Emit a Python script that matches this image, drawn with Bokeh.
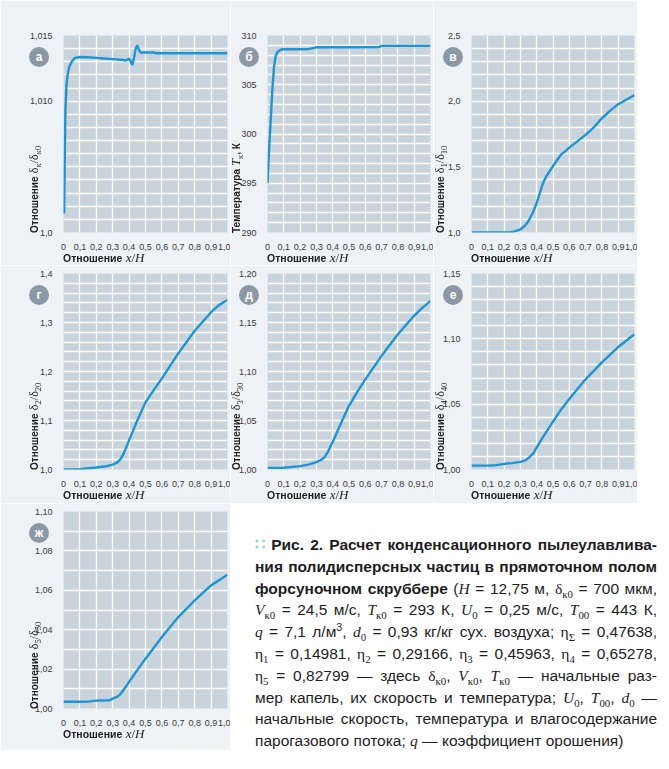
import numpy as np
from bokeh.plotting import figure
from bokeh.models import Range1d, FixedTicker, Div, Spacer
from bokeh.layouts import row, column
from bokeh.embed import file_html
from bokeh.resources import INLINE

# ---------------- data ----------------
X_TICKS = [0.0, 0.1, 0.2, 0.3, 0.4, 0.5, 0.6, 0.7, 0.8, 0.9, 1.0]
X_TICK_LABELS = ["0", "0,1", "0,2", "0,3", "0,4", "0,5", "0,6", "0,7", "0,8", "0,9", "1,0"]

# (а) δк/δк0
a_x = [0.004, 0.008, 0.012, 0.018, 0.025, 0.035, 0.05, 0.07, 0.1, 0.15, 0.2, 0.25, 0.3, 0.35,
       0.38, 0.40, 0.41, 0.42, 0.43, 0.44, 0.45, 0.46, 0.47, 0.5, 0.55, 0.57, 0.6, 0.8, 1.0]
a_y = [1.00145, 1.0060, 1.0095, 1.0112, 1.0120, 1.0126, 1.0130, 1.0133, 1.01336, 1.01334, 1.0133,
       1.01325, 1.0132, 1.01315, 1.0131, 1.01325, 1.0130, 1.01275, 1.0133, 1.0140, 1.01425, 1.0139,
       1.0137, 1.0137, 1.0137, 1.01365, 1.01365, 1.01365, 1.01365]
a_yticks = [1.0, 1.010, 1.015]
a_ylabels = ["1,0", "1,010", "1,015"]

# (б) Tк
b_x = [0.0, 0.01, 0.02, 0.03, 0.04, 0.05, 0.06, 0.08, 0.1, 0.2, 0.25, 0.3, 0.5, 0.68, 0.7, 1.0]
b_y = [295.0, 298.5, 301.5, 304.5, 306.8, 307.9, 308.3, 308.55, 308.6, 308.6, 308.62, 308.8,
       308.8, 308.82, 308.95, 308.95]
b_yticks = [290, 295, 300, 305, 310]
b_ylabels = ["290", "295", "300", "305", "310"]

# (в) δ1/δ10
c_x = [0.0, 0.1, 0.2, 0.23, 0.26, 0.30, 0.331, 0.35, 0.376, 0.40, 0.423, 0.436, 0.444, 0.46,
       0.50, 0.55, 0.577, 0.60, 0.70, 0.75, 0.80, 0.853, 0.90, 0.955, 1.0]
c_y = [1.0, 1.0, 1.0, 1.001, 1.006, 1.023, 1.056, 1.087, 1.15, 1.226, 1.316, 1.366, 1.39, 1.43,
       1.506, 1.595, 1.62, 1.646, 1.743, 1.80, 1.87, 1.93, 1.977, 2.015, 2.046]
c_yticks = [1.0, 1.5, 2.0, 2.5]
c_ylabels = ["1,0", "1,5", "2,0", "2,5"]

# (г) δ2/δ20
d_x = [0.0, 0.1, 0.2, 0.25, 0.3, 0.33, 0.35, 0.37, 0.4, 0.45, 0.5, 0.55, 0.6, 0.7, 0.8, 0.9, 0.95, 1.0]
d_y = [1.0, 1.0005, 1.004, 1.006, 1.01, 1.015, 1.022, 1.035, 1.06, 1.10, 1.137, 1.162, 1.186,
       1.237, 1.283, 1.321, 1.336, 1.346]
d_yticks = [1.0, 1.1, 1.2, 1.3, 1.4]
d_ylabels = ["1,0", "1,1", "1,2", "1,3", "1,4"]

# (д) δ3/δ30
e_x = [0.0, 0.1, 0.2, 0.25, 0.3, 0.33, 0.35, 0.37, 0.4, 0.45, 0.5, 0.55, 0.6, 0.7, 0.8, 0.9, 0.95, 1.0]
e_y = [1.0017, 1.0018, 1.0034, 1.005, 1.0075, 1.010, 1.0125, 1.018, 1.028, 1.047, 1.065, 1.079,
       1.092, 1.116, 1.138, 1.157, 1.165, 1.172]
e_yticks = [1.00, 1.05, 1.10, 1.15, 1.20]
e_ylabels = ["1,00", "1,05", "1,10", "1,15", "1,20"]

# (е) δ4/δ40
f_x = [0.0, 0.1, 0.15, 0.2, 0.25, 0.3, 0.33, 0.35, 0.38, 0.4, 0.45, 0.5, 0.55, 0.6, 0.7, 0.8, 0.9, 1.0]
f_y = [1.003, 1.003, 1.0033, 1.0043, 1.0049, 1.0058, 1.007, 1.0088, 1.0126, 1.017, 1.027, 1.0366,
       1.046, 1.054, 1.069, 1.082, 1.0937, 1.1035]
f_yticks = [1.00, 1.05, 1.10, 1.15]
f_ylabels = ["1,00", "1,05", "1,10", "1,15"]

# (ж) δ5/δ50
g_x = [0.0, 0.1, 0.15, 0.2, 0.28, 0.3, 0.33, 0.35, 0.38, 0.4, 0.45, 0.5, 0.6, 0.7, 0.8, 0.9, 1.0]
g_y = [1.0034, 1.0034, 1.0035, 1.004, 1.0042, 1.005, 1.006, 1.0076, 1.011, 1.0135, 1.0195,
       1.0253, 1.0363, 1.0464, 1.0549, 1.0625, 1.0679]
g_yticks = [1.00, 1.02, 1.04, 1.06, 1.08, 1.10]
g_ylabels = ["1,00", "1,02", "1,04", "1,06", "1,08", "1,10"]

BADGES = ["а", "б", "в", "г", "д", "е", "ж"]

# ---------------- style ----------------
PAGE_BG = "#eef2f5"
PLOT_BG = "#c9d3dc"
LINE_C = "#1a96d4"
BADGE_C = "#8b98a5"
SANS = "'Liberation Sans',sans-serif"
SERIF = "'Liberation Serif',serif"

W = [230, 203, 204]          # figure widths per column
BL = [63, 37, 38]            # left borders per column
H = [265, 238, 247]          # figure heights per row
BT = [35, 8, 8]              # top borders per row
BB = [33, 34, 42]            # bottom borders per row
BADGE_DX = [24, 18, 18]
YTITLE_DX = [37, 39, 39]


def panel(xs, ys, yticks, ylabels, n_grid, col, rw):
    lo, hi = yticks[0], yticks[-1]
    p = figure(width=W[col], height=H[rw], x_range=Range1d(0, 1), y_range=Range1d(lo, hi),
               output_backend="svg", toolbar_location=None,
               min_border_left=BL[col], min_border_right=3,
               min_border_top=BT[rw], min_border_bottom=BB[rw])
    p.background_fill_color = PLOT_BG
    p.border_fill_color = PAGE_BG
    p.outline_line_color = None

    p.xaxis.ticker = FixedTicker(ticks=X_TICKS)
    p.xaxis.major_label_overrides = dict(zip(X_TICKS, X_TICK_LABELS))
    p.yaxis.ticker = FixedTicker(ticks=yticks)
    p.yaxis.major_label_overrides = dict(zip(yticks, ylabels))

    p.xgrid.ticker = FixedTicker(ticks=X_TICKS)
    p.ygrid.ticker = FixedTicker(ticks=list(np.linspace(lo, hi, n_grid + 1)))
    for g in (p.xgrid, p.ygrid):
        g.grid_line_color = "white"
        g.grid_line_width = 1.3

    for ax in (p.xaxis, p.yaxis):
        ax.axis_line_color = None
        ax.major_tick_line_color = None
        ax.minor_tick_line_color = None
        ax.major_label_text_font = "Liberation Sans"
        ax.major_label_text_font_size = "9px"
        ax.major_label_text_color = "#3a3a3a"
    p.xaxis.major_label_standoff = 5
    p.yaxis.major_label_standoff = 5

    p.line(xs, ys, line_color=LINE_C, line_width=2.4)
    return p


pa = panel(a_x, a_y, a_yticks, a_ylabels, 15, 0, 0)
pb = panel(b_x, b_y, b_yticks, b_ylabels, 20, 1, 0)
pc = panel(c_x, c_y, c_yticks, c_ylabels, 15, 2, 0)
pd = panel(d_x, d_y, d_yticks, d_ylabels, 20, 0, 1)
pe = panel(e_x, e_y, e_yticks, e_ylabels, 20, 1, 1)
pf = panel(f_x, f_y, f_yticks, f_ylabels, 15, 2, 1)
pg = panel(g_x, g_y, g_yticks, g_ylabels, 10, 0, 2)

# ---------------- texts: axis titles and badges (HTML, positioned on the page) ----------------
def ttl(size_b, size_s):
    sub = lambda s: f"<sub style=\"font-size:72%;line-height:0;font-family:{SERIF}\">{s}</sub>"
    sg = lambda s: f"<span style=\"font-family:{SERIF};font-size:{size_s}px\">{s}</span>"
    it = lambda s: f"<i style=\"font-family:{SERIF};font-size:{size_s}px\">{s}</i>"
    bold = lambda s: f"<b style=\"font-family:{SANS};font-size:{size_b}px\">{s}</b>"
    return sub, sg, it, bold


sub, sg, it, bold = ttl(10.5, 13)
X_TITLE = bold("Отношение") + " " + it("x") + sg("/") + it("H")
sub, sg, it, bold = ttl(10, 12)
Y_TITLES = [
    bold("Отношение") + " " + sg("δ" + sub("к") + "/δ" + sub("к0")),
    bold("Температура") + " " + it("T") + sub("к") + bold(", К"),
    bold("Отношение") + " " + sg("δ" + sub("1") + "/δ" + sub("10")),
    bold("Отношение") + " " + sg("δ" + sub("2") + "/δ" + sub("20")),
    bold("Отношение") + " " + sg("δ" + sub("3") + "/δ" + sub("30")),
    bold("Отношение") + " " + sg("δ" + sub("4") + "/δ" + sub("40")),
    bold("Отношение") + " " + sg("δ" + sub("5") + "/δ" + sub("50")),
]

frame_left = [sum(W[:c]) + BL[c] for c in range(3)]
frame_top = [sum(H[:r]) + BT[r] for r in range(3)]
frame_bottom = [sum(H[:r + 1]) - BB[r] for r in range(3)]
cells = [(0, 0), (1, 0), (2, 0), (0, 1), (1, 1), (2, 1), (0, 2)]

overlay = []
for k, (c, r) in enumerate(cells):
    fl, ft, fb = frame_left[c], frame_top[r], frame_bottom[r]
    bx, by = fl - BADGE_DX[c], ft + 22
    overlay.append(
        f"<div style=\"position:fixed;left:{bx - 10}px;top:{by - 10}px;width:20px;height:20px;"
        f"border-radius:50%;background:{BADGE_C};color:#ffffff;font-family:{SANS};font-weight:bold;"
        f"font-size:12px;line-height:20px;text-align:center;z-index:1000;\">{BADGES[k]}</div>")
    overlay.append(
        f"<div style=\"position:fixed;left:{fl}px;top:{fb + 18}px;height:16px;line-height:16px;"
        f"white-space:nowrap;color:#222222;z-index:1000;\">{X_TITLE}</div>")
    overlay.append(
        f"<div style=\"position:fixed;left:{fl - YTITLE_DX[c]}px;top:{fb + 1}px;height:16px;line-height:16px;"
        f"white-space:nowrap;color:#222222;transform:rotate(-90deg);transform-origin:0 0;"
        f"z-index:1000;\">{Y_TITLES[k]}</div>")

# ---------------- caption ----------------
SER = f"font-family:{SERIF};"
I = lambda s: f"<i style=\"{SER}\">{s}</i>"
G = lambda s: f"<span style=\"{SER}\">{s}</span>"
cs = lambda s: f"<sub style=\"font-size:70%;line-height:0;{SER}\">{s}</sub>"

lines = [
    "<span style='color:#8ec3ea;font-weight:bold'>∷</span> <b>Рис. 2. Расчет конденсационного пылеулавлива-</b>",
    "<b>ния полидисперсных частиц в прямоточном полом</b>",
    f"<b>форсуночном скруббере</b> ({I('H')} = 12,75 м, {G('δ')}{cs('к0')} = 700 мкм,",
    f"{I('V')}{cs('к0')} = 24,5 м/с, {I('T')}{cs('к0')} = 293 К, {I('U')}{cs('0')} = 0,25 м/с, {I('T')}{cs('00')} = 443 К,",
    f"{I('q')} = 7,1 л/м<sup style='font-size:70%;line-height:0'>3</sup>, {I('d')}{cs('0')} = 0,93 кг/кг сух. воздуха; {G('η')}{cs('Σ')} = 0,47638,",
    f"{G('η')}{cs('1')} = 0,14981, {G('η')}{cs('2')} = 0,29166, {G('η')}{cs('3')} = 0,45963, {G('η')}{cs('4')} = 0,65278,",
    f"{G('η')}{cs('5')} = 0,82799 — здесь {G('δ')}{cs('к0')}, {I('V')}{cs('к0')}, {I('T')}{cs('к0')} — начальные раз-",
    f"мер капель, их скорость и температура; {I('U')}{cs('0')}, {I('T')}{cs('00')}, {I('d')}{cs('0')} —",
    "начальные скорость, температура и влагосодержание",
    f"парогазового потока; {I('q')} — коэффициент орошения)",
]
html = "".join(
    f"<div style=\"height:21.8px;line-height:21.8px;white-space:nowrap;"
    f"text-align:{'left' if i == len(lines) - 1 else 'justify'};"
    f"text-align-last:{'left' if i == len(lines) - 1 else 'justify'};\">{t}</div>"
    for i, t in enumerate(lines)
)
caption = Div(text=f"<div style=\"font-family:{SANS};font-size:15.5px;color:#1e1e1e;width:402px;\">"
                   f"{html}</div>" + "".join(overlay), width=402, height=222)

layout = column(
    row(pa, pb, pc),
    row(pd, pe, pf),
    row(pg, Spacer(width=20), column(Spacer(height=26), caption)),
)

out = file_html(layout, INLINE)
out = out.replace("<body>", f"<body style=\"background-color:{PAGE_BG};\">", 1)
open("out.html", "w").write(out)
